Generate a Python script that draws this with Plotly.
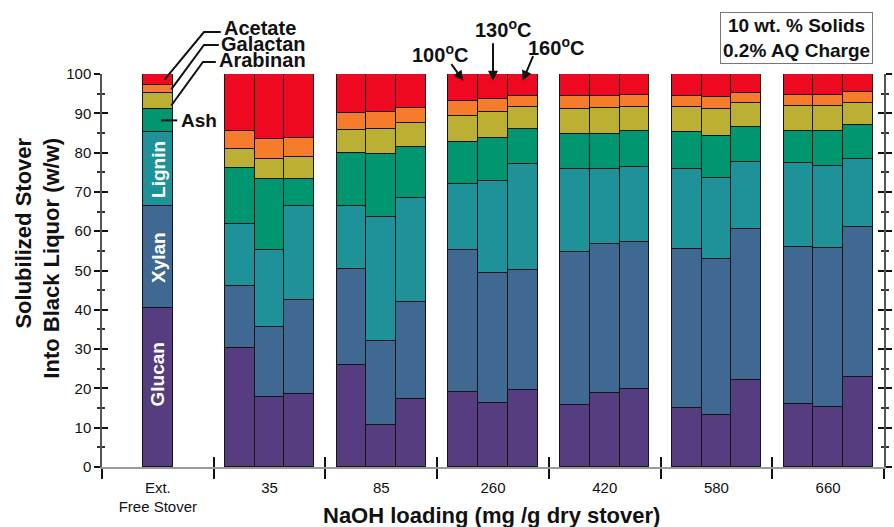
import plotly.graph_objects as go

# ---------------- data ----------------
group_labels = ["Ext.<br>Free Stover", "35", "85", "260", "420", "580", "660"]
bars_per_group = [1, 3, 3, 3, 3, 3, 3]
components = ["Glucan", "Xylan", "Lignin", "Ash", "Arabinan", "Galactan", "Acetate"]

glucan   = [40.4, 30.3, 17.8, 18.6, 25.9, 10.8, 17.4, 19.1, 16.3, 19.6, 15.7, 18.9, 19.8, 15.0, 13.2, 22.1, 16.0, 15.3, 23.0]
xylan    = [26.0, 15.8, 17.8, 23.9, 24.4, 21.2, 24.6, 36.0, 33.1, 30.6, 39.0, 37.8, 37.4, 40.5, 39.7, 38.4, 40.0, 40.5, 38.0]
lignin   = [18.8, 15.8, 19.7, 23.9, 16.2, 31.6, 26.5, 16.9, 23.4, 26.9, 21.2, 19.2, 19.2, 20.4, 20.6, 17.2, 21.3, 20.8, 17.4]
ash      = [6.0, 14.1, 18.0, 6.8, 13.5, 16.1, 12.8, 10.6, 11.0, 9.0, 8.8, 8.8, 9.0, 9.3, 10.7, 8.8, 8.2, 8.9, 8.5]
arabinan = [3.9, 4.9, 5.2, 5.7, 5.8, 6.2, 6.2, 6.7, 6.5, 5.4, 6.5, 6.7, 6.2, 6.3, 6.9, 6.0, 6.4, 6.4, 5.8]
galactan = [2.0, 4.7, 4.9, 4.7, 4.2, 4.4, 3.9, 3.8, 3.3, 3.0, 3.2, 3.1, 3.1, 2.9, 3.0, 2.7, 2.8, 2.8, 2.7]
acetate  = [2.9, 14.4, 16.6, 16.4, 10.0, 9.7, 8.6, 6.9, 6.4, 5.5, 5.6, 5.5, 5.3, 5.6, 5.9, 4.8, 5.3, 5.3, 4.6]

temp_labels = ["100", "130", "160"]
y_ticks = list(range(0, 101, 10))

series = [glucan, xylan, lignin, ash, arabinan, galactan, acetate]
colors = ["#563d80", "#3f6892", "#1f9199", "#009770", "#bcb034", "#f67b2b", "#ee0820"]

# ---------------- layout geometry ----------------
W, H = 894, 527
ML, MR, MT, MB = 102, 2, 74, 60
PW, PH = W - ML - MR, H - MT - MB
BAR_W = 0.266
XMIN, XMAX = -0.5, len(group_labels) - 0.5

def px_x(px):
    return (px - ML) / PW

def px_y(py):
    return (H - MB - py) / PH

def d_x(x):
    return (x - XMIN) / (XMAX - XMIN)

def d_y(y):
    return y / 100.0

xpos = []
for g, n in enumerate(bars_per_group):
    if n == 1:
        xpos.append(g)
    else:
        for k in range(n):
            xpos.append(g + (k - (n - 1) / 2) * BAR_W)

FONT = "Liberation Sans, Arial, Helvetica, sans-serif"

fig = go.Figure()
for name, vals, col in zip(components, series, colors):
    fig.add_trace(go.Bar(
        x=xpos, y=vals, name=name, width=BAR_W,
        marker=dict(color=col, line=dict(color="#151515", width=1.3)),
        showlegend=False,
    ))

# dummy trace for the overlay axes (crossing ticks)
fig.add_trace(go.Scatter(x=[None], y=[None], xaxis="x2", yaxis="y2",
                         showlegend=False, hoverinfo="skip"))

separators = [i - 0.5 for i in range(len(group_labels) + 1)]
centers = list(range(len(group_labels)))

fig.update_layout(
    width=W, height=H,
    margin=dict(l=ML, r=MR, t=MT, b=MB),
    paper_bgcolor="white", plot_bgcolor="white",
    barmode="stack", bargap=0,
    font=dict(family=FONT, color="#111"),
    xaxis=dict(
        range=[XMIN, XMAX], tickmode="array", tickvals=centers, ticktext=group_labels,
        ticks="outside", ticklen=6, tickcolor="rgba(0,0,0,0)",
        tickfont=dict(size=15, color="#111"),
        showline=True, linecolor="#9a9a9a", linewidth=1.5,
        showgrid=False, zeroline=False,
        minor=dict(tickmode="array", tickvals=separators, ticks="outside",
                   ticklen=10, tickwidth=2, tickcolor="#111", showgrid=False),
    ),
    xaxis2=dict(
        range=[XMIN, XMAX], overlaying="x", anchor="y", side="bottom",
        tickmode="array", tickvals=separators, ticks="inside", ticklen=10,
        tickwidth=2, tickcolor="#111", showticklabels=False,
        showline=False, showgrid=False, zeroline=False,
    ),
    yaxis=dict(
        range=[0, 100], tickmode="array", tickvals=y_ticks,
        ticks="outside", ticklen=6, tickwidth=2, tickcolor="#111",
        tickfont=dict(size=15, color="#111"),
        showline=True, linecolor="#555", linewidth=1.5, mirror="ticks",
        showgrid=False, zeroline=False,
        minor=dict(dtick=5, ticks="outside", ticklen=3, tickwidth=1.5,
                   tickcolor="#333", showgrid=False),
    ),
    yaxis2=dict(
        range=[0, 100], overlaying="y", anchor="x", side="left",
        tickmode="array", tickvals=y_ticks, ticks="inside", ticklen=6,
        tickwidth=2, tickcolor="#111", showticklabels=False, mirror="ticks",
        showline=False, showgrid=False, zeroline=False,
        minor=dict(dtick=5, ticks="inside", ticklen=3, tickwidth=1.5,
                   tickcolor="#333", showgrid=False),
    ),
)

ann = []
# axis titles
ann.append(dict(text="Solubilized Stover<br>Into Black Liquor (w/w)", textangle=-90,
                xref="paper", yref="paper", x=px_x(37), y=px_y(258),
                xanchor="center", yanchor="middle", align="right", showarrow=False,
                font=dict(size=22, family=FONT, weight="bold", color="#111")))
ann.append(dict(text="NaOH loading (mg /g dry stover)",
                xref="paper", yref="paper", x=px_x(495), y=px_y(515),
                xanchor="center", yanchor="middle", showarrow=False,
                font=dict(size=22, family=FONT, weight="bold", color="#111")))

# labels inside first bar
mid_xylan = glucan[0] + xylan[0] / 2
mid_lignin = glucan[0] + xylan[0] + lignin[0] / 2
for txt, yv in [("Glucan", 23.5), ("Xylan", mid_xylan), ("Lignin", mid_lignin)]:
    ann.append(dict(text=txt, textangle=-90, x=0, y=yv, xref="x", yref="y",
                    showarrow=False, xanchor="center", yanchor="middle",
                    font=dict(size=19, family=FONT, weight="bold", color="white")))

# Ash label
ash_mid = glucan[0] + xylan[0] + lignin[0] + ash[0] / 2
ann.append(dict(text="Ash", xref="paper", yref="y", x=px_x(180), y=ash_mid,
                xanchor="left", yanchor="middle", showarrow=False,
                font=dict(size=19, family=FONT, weight="bold", color="#111")))

# leader-line labels
base = glucan[0] + xylan[0] + lignin[0] + ash[0]
leaders = [
    ("Acetate", 100 - acetate[0] / 2, 0.06, 205, 32, 222, 223, 28),
    ("Galactan", base + arabinan[0] + galactan[0] / 2, 0.12, 205, 45, 220, 220, 44),
    ("Arabinan", base + arabinan[0] * 0.2, 0.12, 204, 62, 217, 218, 60),
]
shapes = []
for name, yv, xoff, ex, ey, lx, tx, ty in leaders:
    path = "M {:.5f},{:.5f} L {:.5f},{:.5f} L {:.5f},{:.5f}".format(
        d_x(xoff), d_y(yv), px_x(ex), px_y(ey), px_x(lx), px_y(ey))
    shapes.append(dict(type="path", path=path, xref="paper", yref="paper",
                       line=dict(color="#111", width=2)))
    ann.append(dict(text=name, xref="paper", yref="paper", x=px_x(tx), y=px_y(ty),
                    xanchor="left", yanchor="middle", showarrow=False,
                    font=dict(size=20, family=FONT, weight="bold", color="#111")))

# Ash leader
shapes.append(dict(type="line", xref="paper", yref="y", x0=d_x(0.03), x1=px_x(178),
                   y0=ash_mid, y1=ash_mid, line=dict(color="#111", width=2)))

# temperature labels and arrows (group 260)
g260 = group_labels.index("260")
temp_text_pos = [(443, 53), (507, 29), (561, 46)]
arrow_tail = [(-13, -18), (0, -39), (11, -26)]
for k, t in enumerate(temp_labels):
    xb = g260 + (k - 1) * BAR_W
    ann.append(dict(text="", x=xb, y=98.3, xref="x", yref="y", showarrow=True,
                    ax=arrow_tail[k][0], ay=arrow_tail[k][1], arrowhead=2,
                    arrowsize=1, arrowwidth=2, arrowcolor="#111", standoff=0))
    ann.append(dict(text=t + "<sup>o</sup>C", xref="paper", yref="paper",
                    x=px_x(temp_text_pos[k][0]), y=px_y(temp_text_pos[k][1]),
                    xanchor="center", yanchor="middle", showarrow=False,
                    font=dict(size=20, family=FONT, weight="bold", color="#111")))

# condition box
ann.append(dict(text="10 wt. % Solids<br>0.2% AQ Charge", xref="paper", yref="paper",
                x=px_x(804), y=px_y(37.5), xanchor="center", yanchor="middle",
                showarrow=False, bordercolor="#777", borderwidth=1, borderpad=2,
                bgcolor="white",
                font=dict(size=19, family=FONT, weight="bold", color="#111")))

fig.update_layout(annotations=ann, shapes=shapes)
fig.write_html("out.html")
